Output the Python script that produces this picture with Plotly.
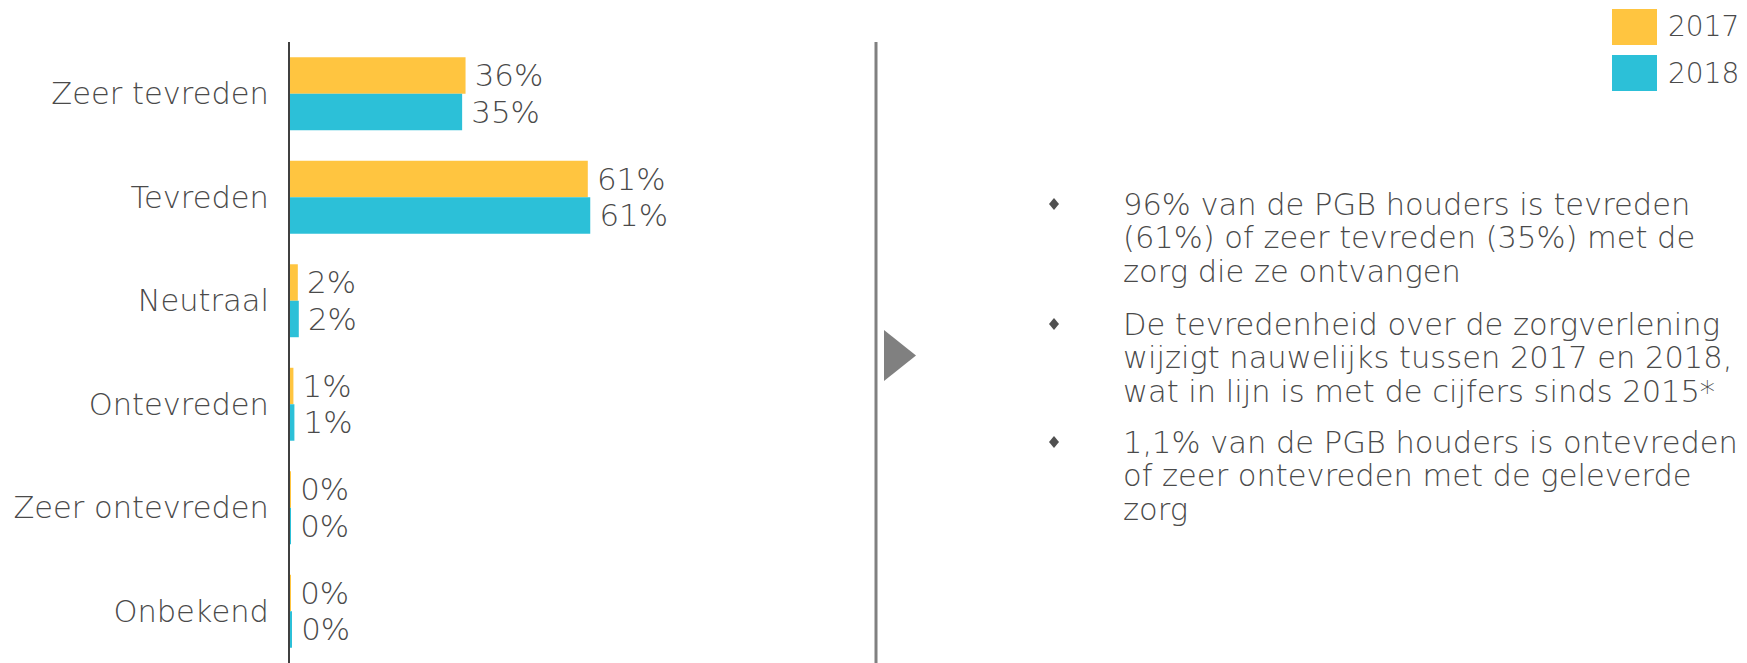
import plotly.graph_objects as go

W, H = 1747, 663

categories = ["Zeer tevreden", "Tevreden", "Neutraal", "Ontevreden", "Zeer ontevreden", "Onbekend"]
values_2017 = [35.9, 60.9, 1.6, 0.7, 0.2, 0.1]
values_2018 = [35.2, 61.4, 1.8, 0.9, 0.2, 0.3]
labels_2017 = ["36%", "61%", "2%", "1%", "0%", "0%"]
labels_2018 = ["35%", "61%", "2%", "1%", "0%", "0%"]
series_names = ["2017", "2018"]
colors = ["#FFC540", "#2CC0D8"]

bullets = [
    ["96% van de PGB houders is tevreden",
     "(61%) of zeer tevreden (35%) met de",
     "zorg die ze ontvangen"],
    ["De tevredenheid over de zorgverlening",
     "wijzigt nauwelijks tussen 2017 en 2018,",
     "wat in lijn is met de cijfers sinds 2015*"],
    ["1,1% van de PGB houders is ontevreden",
     "of zeer ontevreden met de geleverde",
     "zorg"],
]

FONT = "DejaVu Sans"
WGT = 200
TXT = "#4a4a4a"


def px(x):
    return x / W


def py(y):
    return 1 - y / H


fig = go.Figure()
for name, vals, labs, col in zip(series_names, [values_2017, values_2018],
                                 [labels_2017, labels_2018], colors):
    fig.add_trace(go.Bar(
        y=categories, x=vals, name=name, orientation="h",
        marker=dict(color=col, line=dict(width=0)),
        text=["\u2009" + t for t in labs], textposition="outside", cliponaxis=False,
        textfont=dict(family=FONT, size=33, color=TXT, weight=WGT),
        showlegend=False,
    ))

plot_left, plot_right = 290, 779
plot_top = 42

fig.update_layout(
    width=W, height=H,
    margin=dict(l=0, r=0, t=0, b=0),
    paper_bgcolor="white", plot_bgcolor="white",
    barmode="group", bargap=0.295, bargroupgap=0,
    font=dict(family=FONT, color=TXT, weight=WGT),
    xaxis=dict(domain=[px(plot_left), px(plot_right)], range=[0, 100],
               visible=False, fixedrange=True),
    yaxis=dict(domain=[0, py(plot_top)], autorange="reversed",
               categoryorder="array", categoryarray=categories,
               showline=True, linecolor="#404040", linewidth=2,
               ticks="", showgrid=False, ticklabelstandoff=13,
               tickfont=dict(family=FONT, size=30.5, color=TXT, weight=WGT)),
)

shapes = []
annotations = []

# vertical divider
shapes.append(dict(type="line", xref="paper", yref="paper",
                   x0=px(876), x1=px(876), y0=py(42), y1=0,
                   line=dict(color="#808080", width=3)))
# arrow triangle
shapes.append(dict(type="path", xref="paper", yref="paper",
                   path=f"M {px(884)} {py(330)} L {px(916)} {py(355.5)} L {px(884)} {py(381)} Z",
                   fillcolor="#808080", line=dict(width=0)))

# legend
leg_y = [27, 73]
for name, col, yc in zip(series_names, colors, leg_y):
    shapes.append(dict(type="rect", xref="paper", yref="paper",
                       x0=px(1612), x1=px(1657), y0=py(yc - 18), y1=py(yc + 18),
                       fillcolor=col, line=dict(width=0)))
    annotations.append(dict(xref="paper", yref="paper", x=px(1666), y=py(yc),
                            text=name, showarrow=False, xanchor="left", yanchor="middle",
                            font=dict(family=FONT, size=28, color=TXT, weight=WGT)))

# bullet text
group_tops = [204, 324, 442]
line_h = 33.5
for top, lines in zip(group_tops, bullets):
    d = 5
    cx = 1054
    shapes.append(dict(type="path", xref="paper", yref="paper",
                       path=(f"M {px(cx)} {py(top - d - 1)} L {px(cx + d)} {py(top)} "
                             f"L {px(cx)} {py(top + d + 1)} L {px(cx - d)} {py(top)} Z"),
                       fillcolor="#505050", line=dict(width=0)))
    for i, ln in enumerate(lines):
        annotations.append(dict(xref="paper", yref="paper", x=px(1121), y=py(top + i * line_h),
                                text=ln, showarrow=False, xanchor="left", yanchor="middle",
                                font=dict(family=FONT, size=30.5, color=TXT, weight=WGT)))

fig.update_layout(shapes=shapes, annotations=annotations)
fig.write_html("out.html", config={"displayModeBar": False},
               post_script="document.body.style.margin='0';document.body.style.overflow='hidden';")
